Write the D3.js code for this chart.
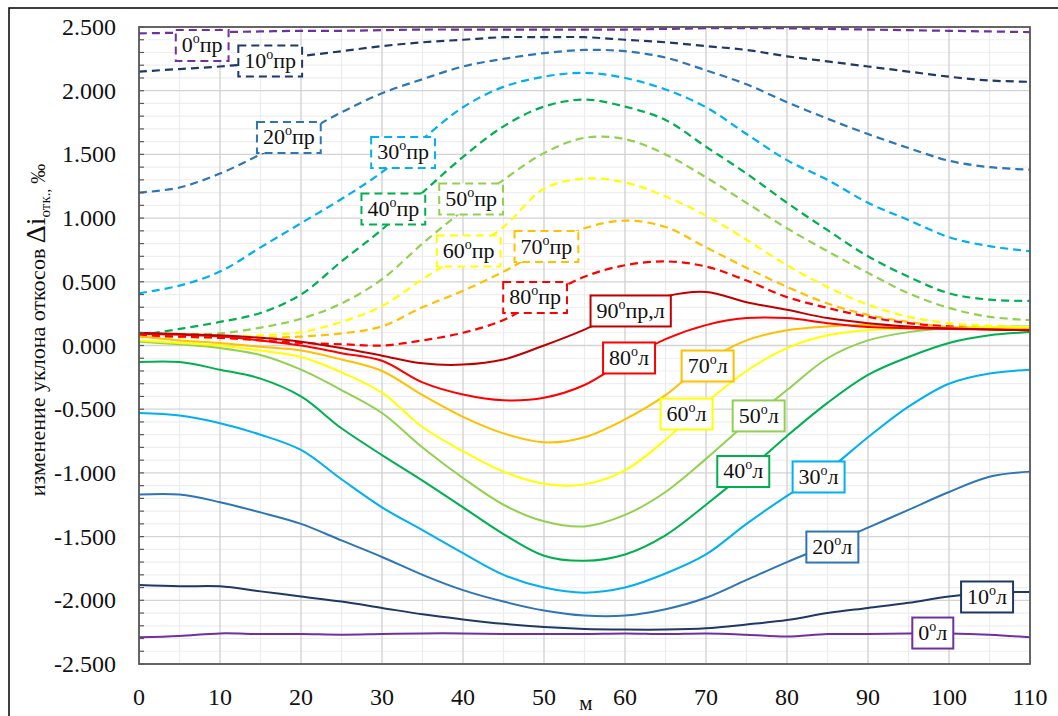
<!DOCTYPE html>
<html>
<head>
<meta charset="utf-8">
<script src="https://cdn.jsdelivr.net/npm/d3@7"></script>
<style>
  body { margin: 0; background: #fff; }
  svg text { font-family: "Liberation Serif", "DejaVu Serif", serif; }
</style>
</head>
<body>
<svg id="chart" width="1058" height="716"></svg>
<script>
// distance along the slope, m
const xs = [0,5,10,15,20,25,30,35,40,45,50,55,60,65,70,75,80,85,90,95,100,105,110];

// "пр" series (dashed)
const p0  = [2.45,2.455,2.46,2.465,2.47,2.47,2.475,2.48,2.48,2.48,2.48,2.48,2.48,2.485,2.49,2.49,2.49,2.485,2.48,2.475,2.47,2.465,2.46];
const p10 = [2.15,2.17,2.19,2.22,2.27,2.31,2.35,2.38,2.40,2.42,2.42,2.42,2.40,2.38,2.35,2.32,2.27,2.23,2.19,2.15,2.11,2.08,2.07];
const p20 = [1.20,1.24,1.35,1.50,1.66,1.83,1.98,2.09,2.19,2.25,2.295,2.32,2.31,2.26,2.16,2.05,1.91,1.78,1.66,1.55,1.45,1.40,1.38];
const p30 = [0.41,0.47,0.58,0.77,0.96,1.15,1.36,1.62,1.87,2.03,2.11,2.14,2.10,2.01,1.87,1.66,1.455,1.30,1.12,0.985,0.85,0.78,0.74];
const p40 = [0.08,0.13,0.185,0.255,0.40,0.66,0.91,1.20,1.48,1.72,1.875,1.93,1.875,1.77,1.56,1.35,1.12,0.905,0.70,0.54,0.41,0.36,0.35];
const p50 = [0.09,0.09,0.095,0.14,0.21,0.33,0.52,0.80,1.06,1.30,1.51,1.63,1.62,1.50,1.32,1.12,0.92,0.74,0.57,0.41,0.295,0.225,0.20];
const p60 = [0.08,0.075,0.07,0.08,0.105,0.185,0.31,0.52,0.72,0.93,1.23,1.31,1.28,1.17,1.02,0.83,0.63,0.46,0.32,0.225,0.175,0.155,0.145];
const p70 = [0.07,0.065,0.06,0.06,0.07,0.095,0.15,0.30,0.43,0.58,0.76,0.92,0.98,0.93,0.77,0.61,0.46,0.33,0.24,0.185,0.145,0.135,0.13];
const p80 = [0.08,0.07,0.06,0.04,0.02,0.01,0.0,0.04,0.10,0.20,0.38,0.54,0.63,0.66,0.62,0.51,0.38,0.295,0.225,0.175,0.15,0.14,0.13];

// "л" series (solid)
const l0  = [-2.29,-2.28,-2.26,-2.265,-2.265,-2.27,-2.265,-2.26,-2.26,-2.265,-2.265,-2.265,-2.26,-2.265,-2.26,-2.27,-2.285,-2.265,-2.265,-2.26,-2.26,-2.27,-2.29];
const l10 = [-1.88,-1.89,-1.89,-1.93,-1.97,-2.01,-2.06,-2.11,-2.15,-2.185,-2.21,-2.225,-2.23,-2.23,-2.22,-2.19,-2.155,-2.10,-2.06,-2.02,-1.97,-1.94,-1.935];
const l20 = [-1.17,-1.17,-1.23,-1.31,-1.40,-1.53,-1.66,-1.80,-1.92,-2.01,-2.08,-2.12,-2.12,-2.07,-1.98,-1.84,-1.70,-1.57,-1.43,-1.29,-1.15,-1.03,-0.99];
const l30 = [-0.53,-0.55,-0.61,-0.70,-0.82,-1.05,-1.27,-1.45,-1.63,-1.80,-1.90,-1.94,-1.90,-1.79,-1.64,-1.40,-1.18,-0.98,-0.72,-0.48,-0.30,-0.22,-0.19];
const l40 = [-0.13,-0.13,-0.19,-0.26,-0.40,-0.65,-0.86,-1.06,-1.27,-1.48,-1.65,-1.69,-1.64,-1.49,-1.25,-0.99,-0.71,-0.45,-0.23,-0.09,0.02,0.08,0.105];
const l50 = [0.03,0.01,-0.02,-0.075,-0.19,-0.35,-0.53,-0.80,-1.04,-1.25,-1.38,-1.42,-1.33,-1.15,-0.89,-0.61,-0.35,-0.10,0.04,0.105,0.135,0.145,0.15];
const l60 = [0.04,0.02,0.0,-0.04,-0.09,-0.21,-0.37,-0.64,-0.83,-0.99,-1.085,-1.09,-0.98,-0.74,-0.45,-0.20,-0.02,0.08,0.12,0.135,0.14,0.145,0.145];
const l70 = [0.07,0.04,0.02,-0.01,-0.04,-0.11,-0.20,-0.39,-0.56,-0.69,-0.76,-0.72,-0.58,-0.39,-0.13,0.04,0.12,0.15,0.16,0.145,0.135,0.13,0.13];
const l80 = [0.09,0.085,0.07,0.04,0.0,-0.06,-0.12,-0.29,-0.385,-0.43,-0.41,-0.31,-0.12,0.05,0.16,0.215,0.215,0.175,0.145,0.135,0.13,0.125,0.12];
const l90 = [0.10,0.09,0.08,0.06,0.03,-0.02,-0.08,-0.14,-0.15,-0.11,0.0,0.125,0.27,0.385,0.42,0.34,0.28,0.215,0.175,0.15,0.135,0.125,0.12];

const angles  = ["0","10","20","30","40","50","60","70","80"];
const colors  = ["#7030A0","#1F3864","#2E75B6","#00B0F0","#00B050","#92D050","#FFFF00","#FFC000","#FF0000"];
const prVals  = [p0,p10,p20,p30,p40,p50,p60,p70,p80];
const lVals   = [l0,l10,l20,l30,l40,l50,l60,l70,l80];

// label anchors (centre of the box) in data units
const prLabelX = [7.8,16.2,18.5,32.6,31.4,41.0,40.7,50.3,48.9];
const prLabelY = [2.355,2.233,1.633,1.515,1.071,1.15,0.742,0.777,0.377];
const lLabelX  = [98.0,104.7,85.6,83.9,74.6,76.5,67.6,70.2,60.5];
const lLabelY  = [-2.257,-1.974,-1.582,-1.032,-0.989,-0.553,-0.538,-0.161,-0.098];
const label90  = [60.7, 0.271];

const yTicks = d3.range(-5, 6).map(i => i * 0.5);
const xTicks = d3.range(0, 12).map(i => i * 10);

const svg = d3.select("#chart");
const x = d3.scaleLinear().domain([0, 110]).range([139, 1030]);
const y = d3.scaleLinear().domain([-2.5, 2.5]).range([664, 27]);

// outer frame
svg.append("rect")
  .attr("x", 9).attr("y", 8)
  .attr("width", 1070).attr("height", 730)
  .attr("fill", "none").attr("stroke", "#000").attr("stroke-width", 1.5);

// gridlines
const grid = svg.append("g");
grid.selectAll(".ymin").data(d3.range(-25, 26).filter(i => i % 5 !== 0))
  .join("line")
  .attr("x1", x(0)).attr("x2", x(110))
  .attr("y1", d => y(d / 10)).attr("y2", d => y(d / 10))
  .attr("stroke", "#efefef").attr("stroke-width", 1.2);
grid.selectAll(".xmin").data(d3.range(5, 110, 10))
  .join("line")
  .attr("y1", y(-2.5)).attr("y2", y(2.5))
  .attr("x1", d => x(d)).attr("x2", d => x(d))
  .attr("stroke", "#ececec").attr("stroke-width", 1.2);
grid.selectAll(".ymaj").data(yTicks)
  .join("line")
  .attr("x1", x(0)).attr("x2", x(110))
  .attr("y1", d => y(d)).attr("y2", d => y(d))
  .attr("stroke", "#d4d4d4").attr("stroke-width", 1.3);
grid.selectAll(".xmaj").data(xTicks)
  .join("line")
  .attr("y1", y(-2.5)).attr("y2", y(2.5))
  .attr("x1", d => x(d)).attr("x2", d => x(d))
  .attr("stroke", "#d0d0d0").attr("stroke-width", 1.3);

// series
const line = d3.line()
  .x((d, i) => x(xs[i]))
  .y(d => y(d))
  .curve(d3.curveCatmullRom.alpha(0.5));

const lines = svg.append("g").attr("fill", "none");
prVals.forEach((v, i) => {
  lines.append("path").attr("d", line(v))
    .attr("stroke", colors[i]).attr("stroke-width", 2.2)
    .attr("stroke-dasharray", "8,5");
});
lVals.forEach((v, i) => {
  lines.append("path").attr("d", line(v))
    .attr("stroke", colors[i]).attr("stroke-width", 2);
});
lines.append("path").attr("d", line(l90))
  .attr("stroke", "#C00000").attr("stroke-width", 2);

// left axis ticks (inside)
const axisG = svg.append("g").attr("stroke", "#595959").attr("stroke-width", 1.2);
axisG.selectAll("line").data(d3.range(-25, 26))
  .join("line")
  .attr("x1", x(0)).attr("x2", x(0) + 5)
  .attr("y1", d => y(d / 10)).attr("y2", d => y(d / 10));

// plot border
svg.append("rect")
  .attr("x", x(0)).attr("y", y(2.5))
  .attr("width", x(110) - x(0)).attr("height", y(-2.5) - y(2.5))
  .attr("fill", "none").attr("stroke", "#595959").attr("stroke-width", 1.8);

// tick labels
svg.append("g").selectAll("text").data(yTicks)
  .join("text")
  .attr("x", 116).attr("y", d => y(d) + 8)
  .attr("text-anchor", "end")
  .attr("font-size", 24)
  .attr("fill", "#111")
  .text(d => d.toFixed(3));

svg.append("g").selectAll("text").data(xTicks)
  .join("text")
  .attr("x", d => x(d)).attr("y", 705)
  .attr("text-anchor", "middle")
  .attr("font-size", 24)
  .attr("fill", "#111")
  .text(d => d);

svg.append("text")
  .attr("x", 586).attr("y", 710)
  .attr("text-anchor", "middle")
  .attr("font-size", 21)
  .attr("fill", "#111")
  .text("м");

// y axis title
const yt = svg.append("text")
  .attr("transform", "translate(45,330) rotate(-90)")
  .attr("text-anchor", "middle")
  .attr("font-size", 22)
  .attr("fill", "#111");
yt.append("tspan").text("изменение уклона откосов ");
yt.append("tspan").attr("font-size", 28).text("Δi");
yt.append("tspan").attr("font-size", 15).attr("dy", 5).text("отк.,");
yt.append("tspan").attr("font-size", 20).attr("dy", -5).text(" ‰");

// data labels
function addLabel(cx, cy, num, suffix, color, dashed) {
  const g = svg.append("g");
  const rect = g.append("rect");
  const t = g.append("text")
    .attr("x", x(cx)).attr("y", y(cy) + 7)
    .attr("text-anchor", "middle")
    .attr("font-size", 22)
    .attr("fill", "#111");
  t.append("tspan").text(num);
  t.append("tspan").attr("font-size", 14).attr("dy", -9).text("o");
  t.append("tspan").attr("dy", 9).text(suffix);
  const w = t.node().getComputedTextLength() + 12;
  rect.attr("x", x(cx) - w / 2).attr("y", y(cy) - 15.5)
    .attr("width", w).attr("height", 31)
    .attr("fill", "#fff")
    .attr("stroke", color).attr("stroke-width", 2)
    .attr("stroke-dasharray", dashed ? "8,5" : null);
}

angles.forEach((a, i) => addLabel(prLabelX[i], prLabelY[i], a, "пр", colors[i], true));
angles.forEach((a, i) => addLabel(lLabelX[i], lLabelY[i], a, "л", colors[i], false));
addLabel(label90[0], label90[1], "90", "пр,л", "#C00000", false);
</script>
</body>
</html>
